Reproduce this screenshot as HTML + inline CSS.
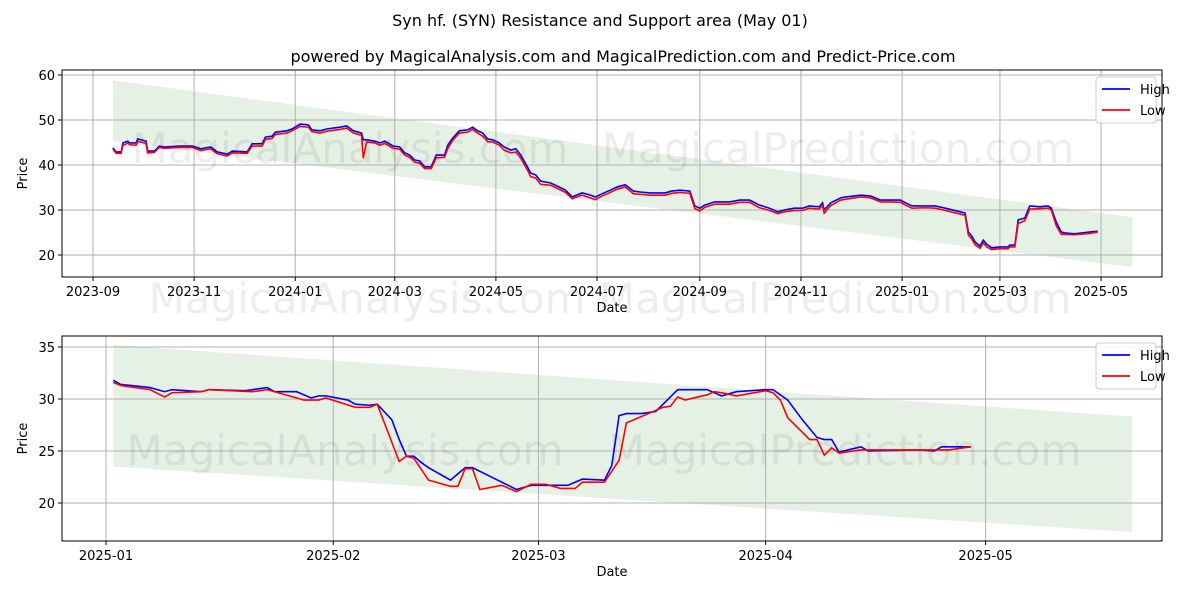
<!DOCTYPE html>
<html><head><meta charset="utf-8"><style>
body{margin:0;background:#fff}
svg{font-family:"DejaVu Sans","Liberation Sans",sans-serif}
</style></head><body>
<svg id="c" width="1200" height="600"></svg>
<script>
// ---- top chart data (dates as day offsets from 2023-09-01) ----
const topDays=[12,14,17,18,21,22,26,27,32,33,37,40,43,52,60,65,71,75,81,84,93,96,102,104,108,110,117,120,125,130,132,137,141,145,149,153,157,162,163,165,170,173,176,181,185,188,191,194,197,200,204,207,212,214,217,221,226,229,232,235,238,241,245,248,252,255,258,262,264,267,270,276,280,285,289,295,300,303,307,312,316,321,326,330,336,345,349,354,360,363,366,369,375,384,390,396,402,408,413,417,423,428,432,438,440,441,445,451,454,463,469,475,481,487,490,494,502,508,514,523,526,528,530,532,535,537,539,542,547,552,553,556,558,562,565,571,576,578,581,584,586,592,601,606];
const topHigh=[43.8,42.9,42.9,44.9,45.3,44.9,44.9,45.8,45.3,43.1,43.1,44.2,44.0,44.2,44.2,43.6,44.0,42.9,42.4,43.1,42.9,44.7,44.7,46.2,46.4,47.3,47.6,48.0,49.1,48.9,47.8,47.6,48.0,48.2,48.4,48.7,47.6,47.1,45.6,45.6,45.3,44.9,45.3,44.2,44.0,42.7,42.2,41.1,40.9,39.6,39.6,42.2,42.2,44.4,46.0,47.6,47.8,48.4,47.6,47.1,45.8,45.6,44.9,44.0,43.3,43.6,42.2,39.6,38.2,37.8,36.4,36.0,35.3,34.4,32.9,33.8,33.3,32.9,33.6,34.4,35.1,35.6,34.2,34.0,33.8,33.8,34.2,34.4,34.2,30.9,30.4,31.1,31.8,31.8,32.2,32.2,31.1,30.4,29.6,30.0,30.4,30.4,30.9,30.7,31.6,30.0,31.6,32.7,32.9,33.3,33.1,32.2,32.2,32.2,31.6,30.9,30.9,30.9,30.4,29.6,29.3,25.1,24.2,22.9,22.0,23.3,22.4,21.6,21.8,21.8,22.2,22.2,27.8,28.2,30.9,30.7,30.9,30.4,27.3,25.1,24.9,24.7,25.1,25.3];
const topLow=[43.5,42.6,42.6,44.3,44.9,44.5,44.4,45.3,44.8,42.7,42.8,43.9,43.7,43.9,43.9,43.2,43.6,42.5,42.0,42.7,42.6,44.2,44.2,45.7,45.9,46.8,47.1,47.6,48.6,48.4,47.4,47.1,47.5,47.7,47.9,48.2,47.1,46.6,41.5,45.1,44.9,44.4,44.8,43.7,43.5,42.2,41.7,40.6,40.4,39.2,39.2,41.6,41.7,43.7,45.5,47.1,47.3,47.9,47.1,46.4,45.2,45.1,44.4,43.3,42.7,42.9,41.5,38.9,37.4,37.1,35.7,35.5,34.8,33.9,32.5,33.3,32.7,32.3,33.1,33.9,34.6,35.1,33.6,33.5,33.3,33.3,33.7,33.9,33.7,30.3,29.8,30.6,31.3,31.3,31.7,31.7,30.5,29.9,29.2,29.6,29.9,29.9,30.4,30.2,31.0,29.3,31.0,32.2,32.4,32.9,32.7,31.8,31.8,31.7,31.1,30.4,30.5,30.4,29.9,29.1,28.8,24.4,23.6,22.3,21.5,22.7,21.8,21.2,21.4,21.4,21.8,21.8,27.0,27.6,30.2,30.3,30.4,30.0,26.5,24.6,24.6,24.5,24.8,25.1];
// ---- bottom chart data (day offsets from 2025-01-01) ----
const botHighDays=[1,2,6,8,9,13,14,19,22,23,26,28,29,30,33,34,36,37,39,40,41,42,43,44,47,49,50,54,56,58,61,63,65,68,69,70,71,73,75,76,78,82,84,86,90,91,93,95,97,98,99,100,103,104,111,113,114,118];
const botHigh=[31.8,31.4,31.1,30.7,30.9,30.7,30.9,30.8,31.1,30.7,30.7,30.1,30.3,30.3,29.9,29.5,29.4,29.5,28.0,26.1,24.5,24.5,23.9,23.4,22.2,23.4,23.4,22.0,21.3,21.7,21.7,21.7,22.3,22.2,23.6,28.4,28.6,28.6,28.8,29.5,30.9,30.9,30.3,30.7,30.9,30.9,29.9,28.0,26.3,26.1,26.1,24.9,25.4,25.0,25.1,25.0,25.4,25.4];
const botLowDays=[1,2,6,8,9,13,14,20,22,23,27,29,30,34,36,37,40,41,42,44,47,48,49,50,51,54,56,58,60,62,64,65,68,70,71,75,76,77,78,79,82,83,84,86,90,91,92,93,96,97,98,99,100,103,104,113,115,118];
const botLow=[31.6,31.3,30.9,30.2,30.6,30.7,30.9,30.7,30.9,30.7,29.9,29.9,30.1,29.2,29.2,29.5,24.0,24.5,24.3,22.2,21.6,21.6,23.3,23.3,21.3,21.7,21.1,21.8,21.8,21.4,21.4,22.0,22.0,24.1,27.7,28.9,29.2,29.3,30.2,29.9,30.4,30.7,30.6,30.3,30.8,30.6,29.9,28.2,26.1,26.1,24.6,25.3,24.8,25.1,25.1,25.1,25.1,25.4];
const topTicks=["2023-09","2023-11","2024-01","2024-03","2024-05","2024-07","2024-09","2024-11","2025-01","2025-03","2025-05"];
const topTickDays=[0,61,122,182,243,304,366,427,488,547,608];
const botTicks=["2025-01","2025-02","2025-03","2025-04","2025-05"];
const botTickDays=[0,31,59,90,120];
const topY=[20,30,40,50,60], botY=[20,25,30,35];
// band: [startDay, topStart, botStart, endDay, topEnd, botEnd]
const topBand=[12,58.8,45.3,627,28.4,17.3];
const botBand=[1,35.2,23.5,140,28.3,17.2];

const NS="http://www.w3.org/2000/svg",svg=document.getElementById('c');
function el(t,a,p){const e=document.createElementNS(NS,t);for(const k in a)e.setAttribute(k,a[k]);(p||svg).appendChild(e);return e;}
function txt(s,a,p){const e=el('text',a,p);e.textContent=s;return e;}
let t=txt("Syn hf. (SYN) Resistance and Support area (May 01)",{x:600,y:26,'font-size':16,'text-anchor':'middle'});

t=txt("powered by MagicalAnalysis.com and MagicalPrediction.com and Predict-Price.com",{x:623,y:62,'font-size':16,'text-anchor':'middle'});


function panel(name,L,T,W,H,xs,ys,ticks,tickDays,yt,band,series,wm){
  const g=el('g',{});
  
  const X=d=>L+xs[0]+d*xs[1], Y=v=>T+ys[0]-(v-ys[1])*ys[2];
  const b=el('polygon',{points:`${X(band[0])},${Y(band[1])} ${X(band[3])},${Y(band[4])} ${X(band[3])},${Y(band[5])} ${X(band[0])},${Y(band[2])}`,fill:'#2e8b2e','fill-opacity':0.12},g);
  
  ticks.forEach((s,i)=>{const x=X(tickDays[i]);
    el('line',{x1:x,x2:x,y1:T,y2:T+H,stroke:'#b0b0b0','stroke-width':1},g);
    el('line',{x1:x,x2:x,y1:T+H,y2:T+H+4,stroke:'#000'},g);
    const l=txt(s,{x:x,y:T+H+19,'font-size':13,'text-anchor':'middle'},g);
    });
  yt.forEach(v=>{const y=Y(v);
    el('line',{x1:L,x2:L+W,y1:y,y2:y,stroke:'#b0b0b0','stroke-width':1},g);
    el('line',{x1:L-4,x2:L,y1:y,y2:y,stroke:'#000'},g);
    const l=txt(String(v),{x:L-7,y:y+5,'font-size':13,'text-anchor':'end'},g);
    });
  wm.forEach(w=>{const m=txt(w[0],{x:w[1],y:w[2],'font-size':42,fill:'#000','fill-opacity':0.07,'text-anchor':'middle'},g);
    });
  series.forEach(s=>{const p=el('polyline',{points:s[0].map((d,i)=>X(d)+','+Y(s[1][i])).join(' '),fill:'none',stroke:s[2],'stroke-width':1.6},g);
    });
  el('rect',{x:L,y:T,width:W,height:H,fill:'none',stroke:'#000','stroke-width':1},g);
  const xl=txt("Date",{x:L+W/2,y:T+H+35,'font-size':13,'text-anchor':'middle'},g);
  
  const yl=txt("Price",{x:0,y:0,'font-size':13,'text-anchor':'middle',transform:`translate(27,${T+H/2}) rotate(-90)`},g);
  
  const lg=el('g',{},g);
  
  el('rect',{x:L+W-66,y:T+7,width:60,height:46,rx:3,fill:'#fff','fill-opacity':0.85,stroke:'#ccc'},lg);
  [['High','blue'],['Low','red']].forEach((e,i)=>{const yy=T+19+i*21;
    const li=el('line',{x1:L+W-60,x2:L+W-32,y1:yy,y2:yy,stroke:e[1],'stroke-width':1.8},lg);
    
    const lt=txt(e[0],{x:L+W-22,y:yy+5,'font-size':13},lg);
    });
}
panel('top-chart',62,70,1100,207,[31,1.658],[5,60,4.5],topTicks,topTickDays,topY,topBand,
  [[topDays,topHigh,'blue','high-line'],[topDays,topLow,'red','low-line']],
  [["MagicalAnalysis.com",350,163],["MagicalPrediction.com",838,163],["MagicalAnalysis.com   MagicalPrediction.com",610,313]]);
panel('bottom-chart',62,336,1100,205,[44,7.33],[11,35,10.4],botTicks,botTickDays,botY,botBand,
  [[botHighDays,botHigh,'blue','high-line'],[botLowDays,botLow,'red','low-line']],
  [["MagicalAnalysis.com",345,465],["MagicalPrediction.com",845,465]]);
</script>
</body></html>
